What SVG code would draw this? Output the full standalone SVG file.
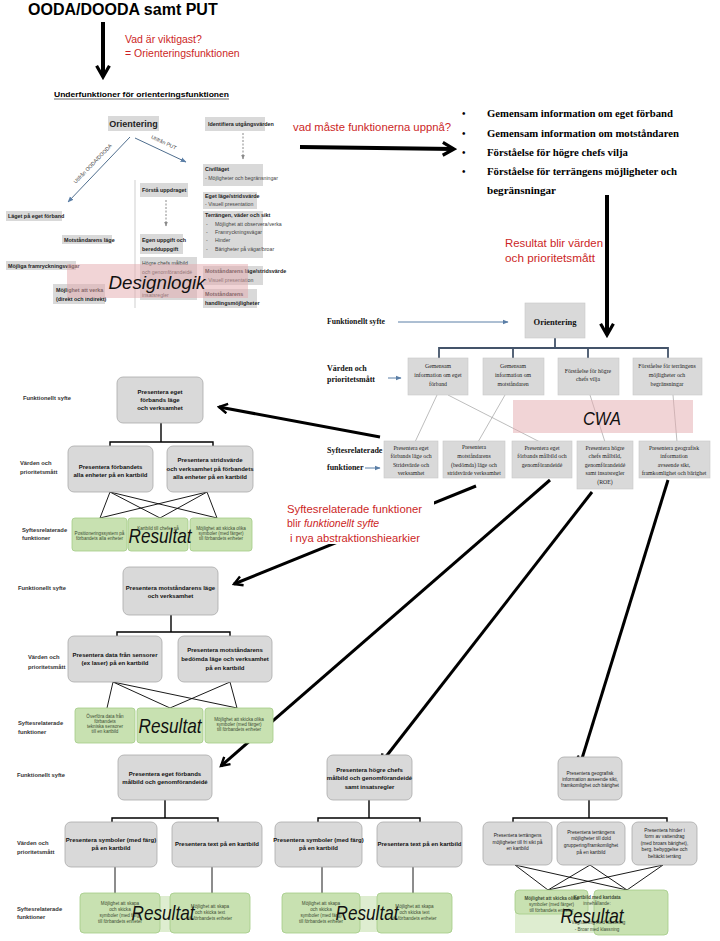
<svg xmlns="http://www.w3.org/2000/svg" width="720" height="941" viewBox="0 0 720 941">
<defs>
<style>
.sans{font-family:"Liberation Sans",Arial,sans-serif}
.serif{font-family:"Liberation Serif","Times New Roman",serif}
.title{font-size:16px;font-weight:bold;fill:#000}
.red{fill:#cc1f26;font-family:"Liberation Sans",Arial,sans-serif}
.bul{font-family:"Liberation Serif","Times New Roman",serif;font-size:10px;font-weight:bold;fill:#000}
.sbox{fill:#d9d9d9}
.st{font-family:"Liberation Sans",Arial,sans-serif;font-size:5.2px;fill:#444}
.stb{font-family:"Liberation Sans",Arial,sans-serif;font-size:5.4px;font-weight:bold;fill:#222}
.cwbox{fill:#d9d9d9;stroke:#c8c8c8;stroke-width:0.6}
.cwl{font-family:"Liberation Serif","Times New Roman",serif;font-size:8px;font-weight:bold;fill:#111}
.cwt{font-family:"Liberation Serif","Times New Roman",serif;font-size:5.8px;fill:#222;text-anchor:middle}
.tl{font-family:"Liberation Sans",Arial,sans-serif;font-size:5.8px;font-weight:bold;fill:#333}
.rb{fill:#d9d9d9;stroke:#a9a9a9;stroke-width:0.8}
.rt{font-family:"Liberation Sans",Arial,sans-serif;font-size:6px;font-weight:bold;fill:#111;text-anchor:middle}
.rts{font-family:"Liberation Sans",Arial,sans-serif;font-size:4.8px;fill:#222;text-anchor:middle}
.gr{fill:#c8e1b1;stroke:#a3cc86;stroke-width:0.8}
.gt{font-family:"Liberation Sans",Arial,sans-serif;font-size:4.6px;fill:#3d4d33;text-anchor:middle}
.band{fill:#c8e1b1;opacity:0.6}
.res{font-family:"Liberation Sans",Arial,sans-serif;font-style:italic;font-size:21px;fill:#111;text-anchor:middle}
.ln{stroke:#000;stroke-width:0.9;fill:none}
.br{stroke:#000;stroke-width:1.4;fill:none}
.big{stroke:#000;stroke-width:3;fill:none;marker-end:url(#ah)}
.huge{stroke:#000;stroke-width:4;fill:none;marker-end:url(#ah)}
.sb{stroke:#5a7ea6;stroke-width:1;fill:none;marker-end:url(#sa)}
.cwbr{stroke:#44546a;stroke-width:1.8;fill:none}
.thin{stroke:#a0a0a0;stroke-width:0.7;fill:none}
.dash{stroke:#8a8a8a;stroke-width:1;stroke-dasharray:2,1.5;fill:none;marker-end:url(#ga)}
.pink{fill:#e3a9ae;opacity:0.5}
</style>
<marker id="ah" viewBox="0 0 10 10" refX="8" refY="5" markerWidth="4" markerHeight="4" orient="auto"><path d="M1,1 L8,5 L1,9" fill="none" stroke="#000" stroke-width="2"/></marker>
<marker id="sa" viewBox="0 0 10 10" refX="9" refY="5" markerWidth="6" markerHeight="6" orient="auto"><path d="M0,1 L10,5 L0,9 z" fill="#5a7ea6"/></marker>
<marker id="ga" viewBox="0 0 10 10" refX="9" refY="5" markerWidth="5" markerHeight="5" orient="auto"><path d="M0,1 L10,5 L0,9 z" fill="#8a8a8a"/></marker>
</defs>
<rect width="720" height="941" fill="#fff"/>

<!-- Connectors -->
<g id="connectors">
  <line class="huge" x1="103" y1="22" x2="103" y2="77"/>
  <line class="huge" x1="300" y1="147" x2="454" y2="149"/>
  <line class="huge" x1="607" y1="195" x2="607" y2="335"/>
  <!-- top-left sub diagram -->
  <line x1="130" y1="137" x2="68" y2="202" stroke="#4f6e8e" stroke-width="1" marker-end="url(#sa)"/>
  <line x1="135" y1="138" x2="186" y2="162" stroke="#4f6e8e" stroke-width="1" marker-end="url(#sa)"/>
  <line x1="135" y1="180" x2="135" y2="308" stroke="#b0b0b0" stroke-width="0.6"/>
  <line class="dash" x1="166" y1="200" x2="166" y2="226"/>
  <line class="dash" x1="243" y1="133" x2="243" y2="159"/>
  <!-- CWA -->
  <line class="sb" x1="398" y1="322" x2="508" y2="322"/>
  <line class="sb" x1="388" y1="378" x2="401" y2="378"/>
  <line class="sb" x1="365" y1="468" x2="380" y2="468"/>
  <path class="cwbr" d="M555,338 V348 M439,358 V348 H668 V358 M513,348 V358 M588,348 V358"/>
  <line class="thin" x1="437" y1="395" x2="415" y2="442"/>
  <line class="thin" x1="448" y1="395" x2="540" y2="442"/>
  <line class="thin" x1="505" y1="395" x2="478" y2="442"/>
  <line class="thin" x1="590" y1="395" x2="605" y2="442"/>
  <line class="thin" x1="673" y1="395" x2="677" y2="442"/>
  <!-- long arrows -->
  <line class="big" x1="380" y1="437" x2="219" y2="407"/>
  <line class="big" x1="476" y1="486" x2="234" y2="584"/>
  <line class="big" x1="550" y1="480" x2="221" y2="766"/>
  <line class="big" x1="592" y1="492" x2="381" y2="763"/>
  <line class="big" x1="668" y1="480" x2="580" y2="765"/>
  <!-- tree 1 -->
  <path class="br" d="M161,423 V442 M110,447 V442 H213 V447"/>
  <path class="ln" d="M110,492 L100,518 M110,492 L160,518 M110,492 L217,518 M207,492 L100,518 M207,492 L160,518 M207,492 L217,518"/>
  <!-- tree 2 -->
  <path class="br" d="M171,615 V632 M117,637 V632 H230 V637"/>
  <path class="ln" d="M113,682 L107,708 M113,682 L170,708 M113,682 L237,708 M230,682 L170,708 M230,682 L237,708"/>
  <!-- tree 3 -->
  <path class="br" d="M165,800 V818 M112,823 V818 H218 V823"/>
  <path class="ln" d="M115,867 V893 M212,867 V893"/>
  <!-- tree 4 -->
  <path class="br" d="M369,800 V818 M318,823 V818 H420 V823"/>
  <path class="ln" d="M322,867 V893 M413,867 V893"/>
  <!-- tree 5 -->
  <path class="br" d="M589,800 V818 M513,822 V818 H667 V822"/>
  <path class="ln" d="M515,865 L548,890 M515,865 L627,890 M590,865 L548,890 M590,865 L627,890 M663,865 L548,890 M663,865 L627,890"/>
</g>

<!-- Title and annotations -->
<g id="title">
  <text class="sans title" x="28" y="15">OODA/DOODA samt PUT</text>
  <text class="red" x="125" y="43" font-size="10.5">Vad är viktigast?</text>
  <text class="red" x="125" y="57" font-size="10.5">= Orienteringsfunktionen</text>
  <text class="sans" x="54" y="97" font-size="8" font-weight="bold" textLength="175" lengthAdjust="spacingAndGlyphs">Underfunktioner för orienteringsfunktionen</text>
  <line x1="54" y1="99" x2="229" y2="99" stroke="#000" stroke-width="0.6"/>
  <text class="red" x="293" y="131" font-size="10.5" textLength="158" lengthAdjust="spacingAndGlyphs">vad måste funktionerna uppnå?</text>
  <text class="red" x="505" y="247" font-size="11" textLength="98" lengthAdjust="spacingAndGlyphs">Resultat blir värden</text>
  <text class="red" x="505" y="262" font-size="11" textLength="90" lengthAdjust="spacingAndGlyphs">och prioritetsmått</text>
</g>

<g id="bullets">
  <text class="bul" x="462" y="117">•</text>
  <text class="bul" x="487" y="117" textLength="186" lengthAdjust="spacingAndGlyphs">Gemensam information om eget förband</text>
  <text class="bul" x="462" y="137">•</text>
  <text class="bul" x="487" y="137" textLength="192" lengthAdjust="spacingAndGlyphs">Gemensam information om motståndaren</text>
  <text class="bul" x="462" y="156">•</text>
  <text class="bul" x="487" y="156" textLength="141" lengthAdjust="spacingAndGlyphs">Förståelse för högre chefs vilja</text>
  <text class="bul" x="462" y="175">•</text>
  <text class="bul" x="487" y="175" textLength="190" lengthAdjust="spacingAndGlyphs">Förståelse för terrängens möjligheter och</text>
  <text class="bul" x="487" y="194" textLength="69" lengthAdjust="spacingAndGlyphs">begränsningar</text>
</g>

<!-- Top-left sub diagram -->
<g id="sub-orientering">
  <rect class="sbox" x="108" y="116" width="51" height="15"/>
  <text class="sans" x="133.5" y="127" font-size="9" font-weight="bold" fill="#222" text-anchor="middle">Orientering</text>
  <text class="st" transform="translate(94,165) rotate(-46)" text-anchor="middle" font-size="4.6">Utifrån OODA/DOODA</text>
  <text class="st" transform="translate(163,144) rotate(25)" text-anchor="middle" font-size="4.6">Utifrån PUT</text>
</g>
<g id="sub-identifiera">
  <rect class="sbox" x="205" y="117" width="60" height="14"/>
  <text class="stb" x="208" y="126">Identifiera utgångsvärden</text>
</g>
<g id="sub-civil">
  <rect class="sbox" x="203" y="164" width="60" height="22"/>
  <text class="stb" x="205" y="171">Civilläget</text>
  <text class="st" x="205" y="180">- Möjligheter och begränsningar</text>
</g>
<g id="sub-eget">
  <rect class="sbox" x="203" y="192" width="54" height="17"/>
  <text class="stb" x="205" y="198">Eget läge/stridsvärde</text>
  <text class="st" x="205" y="206">- Visuell presentation</text>
</g>
<g id="sub-terrang">
  <rect class="sbox" x="203" y="211" width="60" height="47"/>
  <text class="stb" x="205" y="217">Terrängen, väder och sikt</text>
  <text class="st" x="206" y="226">-</text><text class="st" x="215" y="226">Möjlighet att observera/verka</text>
  <text class="st" x="206" y="234">-</text><text class="st" x="215" y="234">Framryckningsvägar</text>
  <text class="st" x="206" y="242">-</text><text class="st" x="215" y="242">Hinder</text>
  <text class="st" x="206" y="251">-</text><text class="st" x="215" y="251">Bärigheter på vägar/broar</text>
</g>
<g id="sub-motlage">
  <rect class="sbox" x="203" y="266" width="60" height="19"/>
  <text class="stb" x="205" y="273">Motståndarens läge/stridsvärde</text>
  <text class="st" x="205" y="282">- Visuell presentation</text>
</g>
<g id="sub-mothandling">
  <rect class="sbox" x="203" y="289" width="54" height="19"/>
  <text class="stb" x="205" y="296">Motståndarens</text>
  <text class="stb" x="205" y="305">handlingsmöjligheter</text>
</g>
<g id="sub-forsta">
  <rect class="sbox" x="140" y="183" width="48" height="14"/>
  <text class="stb" x="142" y="192">Förstå uppdraget</text>
</g>
<g id="sub-egen">
  <rect class="sbox" x="140" y="234" width="43" height="20"/>
  <text class="stb" x="142" y="242">Egen uppgift och</text>
  <text class="stb" x="142" y="251">beredduppgift</text>
</g>
<g id="sub-hogre">
  <rect class="sbox" x="140" y="257" width="57" height="43"/>
  <text class="st" x="142" y="265">Högre chefs målbild</text>
  <text class="st" x="142" y="274">och genomförandeidé</text>
  <text class="st" x="142" y="297">insatsregler</text>
</g>
<g id="sub-laget">
  <rect class="sbox" x="6" y="211" width="56" height="10"/>
  <text class="stb" x="8" y="218">Läget på eget förband</text>
</g>
<g id="sub-motst">
  <rect class="sbox" x="62" y="235" width="50" height="9"/>
  <text class="stb" x="64" y="242">Motståndarens läge</text>
</g>
<g id="sub-mojliga">
  <rect class="sbox" x="6" y="261" width="70" height="9"/>
  <text class="stb" x="8" y="268">Möjliga framryckningsvägar</text>
</g>
<g id="sub-verka">
  <rect class="sbox" x="53" y="284" width="52" height="20"/>
  <text class="stb" x="56" y="292">Möjlighet att verka</text>
  <text class="stb" x="56" y="301">(direkt och indirekt)</text>
</g>
<g id="designlogik">
  <rect class="pink" x="67" y="264" width="181" height="34"/>
  <text class="sans" x="157" y="289" font-size="18" font-style="italic" fill="#111" text-anchor="middle" textLength="97" lengthAdjust="spacingAndGlyphs">Designlogik</text>
</g>

<!-- CWA -->
<g id="cwa-labels">
  <text class="cwl" x="327" y="324" textLength="58" lengthAdjust="spacingAndGlyphs">Funktionellt  syfte</text>
  <text class="cwl" x="327" y="371">Värden och</text>
  <text class="cwl" x="327" y="382">prioritetsmått</text>
  <text class="cwl" x="327" y="453">Syftesrelaterade</text>
  <text class="cwl" x="327" y="470">funktioner</text>
</g>
<g id="cwa-orientering">
  <rect class="cwbox" x="525" y="303" width="60" height="35"/>
  <text class="serif" x="555" y="325" font-size="8.5" font-weight="bold" fill="#111" text-anchor="middle">Orientering</text>
</g>
<g id="cwa-v1">
  <rect class="cwbox" x="408" y="358" width="60" height="37"/>
  <text class="cwt" x="438" y="368">Gemensam</text>
  <text class="cwt" x="438" y="377">information  om eget</text>
  <text class="cwt" x="438" y="386">förband</text>
</g>
<g id="cwa-v2">
  <rect class="cwbox" x="483" y="358" width="61" height="37"/>
  <text class="cwt" x="513" y="368">Gemensam</text>
  <text class="cwt" x="513" y="377">information  om</text>
  <text class="cwt" x="513" y="386">motståndaren</text>
</g>
<g id="cwa-v3">
  <rect class="cwbox" x="558" y="358" width="61" height="37"/>
  <text class="cwt" x="588" y="373">Förståelse för högre</text>
  <text class="cwt" x="588" y="381">chefs vilja</text>
</g>
<g id="cwa-v4">
  <rect class="cwbox" x="633" y="358" width="69" height="37"/>
  <text class="cwt" x="667" y="368">Förståelse för terrängens</text>
  <text class="cwt" x="667" y="377">möjligheter  och</text>
  <text class="cwt" x="667" y="386">begränsningar</text>
</g>
<g id="cwa-band">
  <rect class="pink" x="513" y="400" width="180" height="33"/>
  <text class="sans" x="602" y="425" font-size="19" font-style="italic" fill="#111" text-anchor="middle" textLength="38" lengthAdjust="spacingAndGlyphs">CWA</text>
</g>
<g id="cwa-f1">
  <rect class="cwbox" x="384" y="441" width="54" height="37"/>
  <text class="cwt" x="411" y="450">Presentera eget</text>
  <text class="cwt" x="411" y="458">förbands läge och</text>
  <text class="cwt" x="411" y="467">Stridsvärde och</text>
  <text class="cwt" x="411" y="475">verksamhet</text>
</g>
<g id="cwa-f2">
  <rect class="cwbox" x="443" y="441" width="62" height="37"/>
  <text class="cwt" x="474" y="449">Presentera</text>
  <text class="cwt" x="474" y="458">motståndarens</text>
  <text class="cwt" x="474" y="467">(bedömda) läge och</text>
  <text class="cwt" x="474" y="475">stridsvärde verksamhet</text>
</g>
<g id="cwa-f3">
  <rect class="cwbox" x="512" y="441" width="60" height="37"/>
  <text class="cwt" x="542" y="450">Presentera eget</text>
  <text class="cwt" x="542" y="458">förbands målbild och</text>
  <text class="cwt" x="542" y="467">genomförandeidé</text>
</g>
<g id="cwa-f4">
  <rect class="cwbox" x="577" y="441" width="56" height="48"/>
  <text class="cwt" x="605" y="450">Presentera högre</text>
  <text class="cwt" x="605" y="458">chefs målbild,</text>
  <text class="cwt" x="605" y="467">genomförandeidé</text>
  <text class="cwt" x="605" y="475">samt insatsregler</text>
  <text class="cwt" x="605" y="484">(ROE)</text>
</g>
<g id="cwa-f5">
  <rect class="cwbox" x="639" y="441" width="71" height="37"/>
  <text class="cwt" x="674" y="450">Presentera geografisk</text>
  <text class="cwt" x="674" y="458">information</text>
  <text class="cwt" x="674" y="467">avseende sikt,</text>
  <text class="cwt" x="674" y="475">framkomlighet och bärighet</text>
</g>

<g id="note-syfte">
  <rect x="282" y="498" width="152" height="46" fill="#fff"/>
  <text class="red" x="287" y="513" font-size="10.5" textLength="135" lengthAdjust="spacingAndGlyphs">Syftesrelaterade funktioner</text>
  <text class="red" x="287" y="527" font-size="10.5">blir <tspan font-style="italic">funktionellt syfte</tspan></text>
  <text class="red" x="290" y="542" font-size="10.5" textLength="130" lengthAdjust="spacingAndGlyphs">i nya abstraktionshiearkier</text>
</g>

<!-- Tree 1 -->
<g id="t1-labels">
  <text class="tl" x="23" y="400">Funktionellt syfte</text>
  <text class="tl" x="20" y="465">Värden och</text>
  <text class="tl" x="20" y="474">prioritetsmått</text>
  <text class="tl" x="22" y="532">Syftesrelaterade</text>
  <text class="tl" x="22" y="540">funktioner</text>
</g>
<g id="t1-top">
  <rect class="rb" x="117" y="377" width="86" height="46" rx="6"/>
  <text class="rt" x="160" y="394">Presentera eget</text>
  <text class="rt" x="160" y="402">förbands läge</text>
  <text class="rt" x="160" y="410">och verksamhet</text>
</g>
<g id="t1-v1">
  <rect class="rb" x="68" y="446" width="85" height="46" rx="6"/>
  <text class="rt" x="110.5" y="469">Presentera förbandets</text>
  <text class="rt" x="110.5" y="477">alla enheter på en kartbild</text>
</g>
<g id="t1-v2">
  <rect class="rb" x="167" y="446" width="86" height="46" rx="6"/>
  <text class="rt" x="210" y="462">Presentera stridsvärde</text>
  <text class="rt" x="210" y="471">och verksamhet på förbandets</text>
  <text class="rt" x="210" y="479">alla enheter på en kartbild</text>
</g>
<g id="t1-f1">
  <rect class="gr" x="72" y="518" width="55" height="33" rx="3"/>
  <text class="gt" x="99.5" y="535">Positioneringssystem på</text>
  <text class="gt" x="99.5" y="540">förbandets alla enheter</text>
</g>
<g id="t1-f2">
  <rect class="gr" x="128" y="518" width="60" height="33" rx="3"/>
  <text class="gt" x="158" y="530">Kartbild till chefer på</text>
</g>
<g id="t1-f3">
  <rect class="gr" x="190" y="518" width="62" height="33" rx="3"/>
  <text class="gt" x="221" y="530">Möjlighet att skicka olika</text>
  <text class="gt" x="221" y="535">symboler (med färger)</text>
  <text class="gt" x="221" y="540">till förbandets enheter</text>
</g>
<text class="res" x="160" y="543" textLength="63" lengthAdjust="spacingAndGlyphs">Resultat</text>

<!-- Tree 2 -->
<g id="t2-labels">
  <text class="tl" x="18" y="590">Funktionellt syfte</text>
  <text class="tl" x="28" y="659">Värden och</text>
  <text class="tl" x="28" y="669">prioritetsmått</text>
  <text class="tl" x="18" y="725">Syftesrelaterade</text>
  <text class="tl" x="18" y="734">funktioner</text>
</g>
<g id="t2-top">
  <rect class="rb" x="123" y="567" width="95" height="48" rx="6"/>
  <text class="rt" x="170.5" y="590">Presentera motståndarens läge</text>
  <text class="rt" x="170.5" y="598">och verksamhet</text>
</g>
<g id="t2-v1">
  <rect class="rb" x="68" y="636" width="94" height="46" rx="6"/>
  <text class="rt" x="115" y="657">Presentera data från sensorer</text>
  <text class="rt" x="115" y="665">(ex laser) på en kartbild</text>
</g>
<g id="t2-v2">
  <rect class="rb" x="178" y="636" width="94" height="46" rx="6"/>
  <text class="rt" x="225" y="652">Presentera motståndarens</text>
  <text class="rt" x="225" y="661">bedömda läge och verksamhet</text>
  <text class="rt" x="225" y="670">på en kartbild</text>
</g>
<g id="t2-f1">
  <rect class="gr" x="75" y="708" width="60" height="35" rx="3"/>
  <text class="gt" x="105" y="718">Överföra data från</text>
  <text class="gt" x="105" y="723">förbandets</text>
  <text class="gt" x="105" y="728">tekniska sensorer</text>
  <text class="gt" x="105" y="733">till en kartbild</text>
</g>
<g id="t2-f2">
  <rect class="gr" x="137" y="708" width="66" height="35" rx="3"/>
</g>
<g id="t2-f3">
  <rect class="gr" x="205" y="708" width="68" height="35" rx="3"/>
  <text class="gt" x="239" y="721">Möjlighet att skicka olika</text>
  <text class="gt" x="239" y="726">symboler (med färger)</text>
  <text class="gt" x="239" y="731">till förbandets enheter</text>
</g>
<text class="res" x="170" y="733" textLength="63" lengthAdjust="spacingAndGlyphs">Resultat</text>

<!-- Tree 3 -->
<g id="t3-labels">
  <text class="tl" x="17" y="777">Funktionellt syfte</text>
  <text class="tl" x="17" y="845">Värden och</text>
  <text class="tl" x="17" y="854">prioritetsmått</text>
  <text class="tl" x="17" y="911">Syftesrelaterade</text>
  <text class="tl" x="17" y="919">funktioner</text>
</g>
<g id="t3-top">
  <rect class="rb" x="118" y="755" width="94" height="45" rx="6"/>
  <text class="rt" x="165" y="776">Presentera eget förbands</text>
  <text class="rt" x="165" y="784">målbild och genomförandeidé</text>
</g>
<g id="t3-v1">
  <rect class="rb" x="65" y="822" width="92" height="45" rx="6"/>
  <text class="rt" x="111" y="842">Presentera symboler (med färg)</text>
  <text class="rt" x="111" y="850">på en kartbild</text>
</g>
<g id="t3-v2">
  <rect class="rb" x="172" y="822" width="90" height="45" rx="6"/>
  <text class="rt" x="217" y="846">Presentera text på en kartbild</text>
</g>
<rect class="band" x="80" y="896" width="170" height="36"/>
<g id="t3-f1">
  <rect class="gr" x="80" y="893" width="80" height="40" rx="4"/>
  <text class="gt" x="120" y="905">Möjlighet att skapa</text>
  <text class="gt" x="120" y="911">och skicka</text>
  <text class="gt" x="120" y="917">symboler (med färg)</text>
  <text class="gt" x="120" y="923">till förbandets enheter</text>
</g>
<g id="t3-f2">
  <rect class="gr" x="170" y="893" width="80" height="40" rx="4"/>
  <text class="gt" x="210" y="908">Möjlighet att skapa</text>
  <text class="gt" x="210" y="914">och skicka text</text>
  <text class="gt" x="210" y="920">till förbandets enheter</text>
</g>
<text class="res" x="163" y="920" textLength="63" lengthAdjust="spacingAndGlyphs">Resultat</text>

<!-- Tree 4 -->
<g id="t4-top">
  <rect class="rb" x="327" y="755" width="85" height="45" rx="6"/>
  <text class="rt" x="369.5" y="772">Presentera högre chefs</text>
  <text class="rt" x="369.5" y="780">målbild och genomförandeidé</text>
  <text class="rt" x="369.5" y="789">samt insatsregler</text>
</g>
<g id="t4-v1">
  <rect class="rb" x="275" y="822" width="87" height="45" rx="6"/>
  <text class="rt" x="318.5" y="842">Presentera symboler (med färg)</text>
  <text class="rt" x="318.5" y="850">på en kartbild</text>
</g>
<g id="t4-v2">
  <rect class="rb" x="377" y="822" width="85" height="45" rx="6"/>
  <text class="rt" x="419.5" y="846">Presentera text på en kartbild</text>
</g>
<rect class="band" x="282" y="896" width="170" height="36"/>
<g id="t4-f1">
  <rect class="gr" x="282" y="893" width="78" height="40" rx="4"/>
  <text class="gt" x="321" y="905">Möjlighet att skapa</text>
  <text class="gt" x="321" y="911">och skicka</text>
  <text class="gt" x="321" y="917">symboler (med färg)</text>
  <text class="gt" x="321" y="923">till förbandets enheter</text>
</g>
<g id="t4-f2">
  <rect class="gr" x="377" y="893" width="75" height="40" rx="4"/>
  <text class="gt" x="414.5" y="908">Möjlighet att skapa</text>
  <text class="gt" x="414.5" y="914">och skicka text</text>
  <text class="gt" x="414.5" y="920">till förbandets enheter</text>
</g>
<text class="res" x="367" y="920" textLength="63" lengthAdjust="spacingAndGlyphs">Resultat</text>

<!-- Tree 5 -->
<g id="t5-top">
  <rect class="rb" x="558" y="757" width="64" height="43" rx="6"/>
  <text class="rts" x="590" y="775">Presentera geografisk</text>
  <text class="rts" x="590" y="781">information avseende sikt,</text>
  <text class="rts" x="590" y="787">framkomlighet och bärighet</text>
</g>
<g id="t5-v1">
  <rect class="rb" x="483" y="822" width="69" height="43" rx="6"/>
  <text class="rts" x="517.5" y="837">Presentera terrängens</text>
  <text class="rts" x="517.5" y="844">möjligheter till fri sikt på</text>
  <text class="rts" x="517.5" y="850">en kartbild</text>
</g>
<g id="t5-v2">
  <rect class="rb" x="557" y="822" width="68" height="43" rx="6"/>
  <text class="rts" x="591" y="834">Presentera terrängens</text>
  <text class="rts" x="591" y="840">möjligheter till dold</text>
  <text class="rts" x="591" y="847">gruppering/framkomlighet</text>
  <text class="rts" x="591" y="854">på en kartbild</text>
</g>
<g id="t5-v3">
  <rect class="rb" x="632" y="822" width="65" height="43" rx="6"/>
  <text class="rts" x="664.5" y="832">Presentera hinder i</text>
  <text class="rts" x="664.5" y="838">form av vattendrag</text>
  <text class="rts" x="664.5" y="845">(med broars bärighet),</text>
  <text class="rts" x="664.5" y="851">berg, bebyggelse och</text>
  <text class="rts" x="664.5" y="858">beltäckt terräng</text>
</g>
<rect class="band" x="515" y="898" width="153" height="35"/>
<g id="t5-f1">
  <rect class="gr" x="515" y="890" width="73" height="24" rx="4"/>
  <text class="gt" x="551.5" y="900" font-weight="bold" font-size="5">Möjlighet att skicka olika</text>
  <text class="gt" x="551.5" y="906" font-size="5">symboler (med färger)</text>
  <text class="gt" x="551.5" y="911.5" font-size="5">till förbandets enheter</text>
</g>
<g id="t5-f2">
  <rect class="gr" x="594" y="890" width="74" height="45" rx="4"/>
  <text class="gt" x="597" y="899" font-size="5" font-weight="bold" text-anchor="start">Kartbild med kartdata</text>
  <text class="gt" x="597" y="905" font-size="5" text-anchor="start">innehållande:</text>
  <text class="gt" x="597" y="924" font-size="5" text-anchor="start">- Vägnätning med klassning</text>
  <text class="gt" x="597" y="931" font-size="5" text-anchor="start">- Broar med klassning</text>
</g>
<text class="res" x="592" y="923" textLength="63" lengthAdjust="spacingAndGlyphs">Resultat</text>
</svg>
